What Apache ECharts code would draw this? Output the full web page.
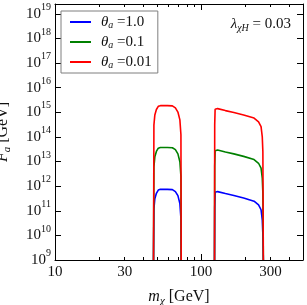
<!DOCTYPE html>
<html><head><meta charset="utf-8">
<script src="https://cdn.jsdelivr.net/npm/echarts@6/dist/echarts.min.js"></script>
<style>html,body{margin:0;padding:0;background:#fff}#c{width:307px;height:305px}</style>
</head><body><div id="c"></div>
<script>
// ---- data ----
const massLow  = [47.3, 47.6, 48.3, 49.5, 51.0, 52.7, 58.9, 63.7, 66.8, 69.5, 71.7, 72.9, 73.2];
const massHigh = [123.8, 124.2, 125.0, 127.0, 130.0, 147.0, 168.0, 196.0, 231.0, 248.0, 258.0, 263.0, 265.5, 267.5];

const fBlueLow  = [1e9, 1.2e11, 3.1e11, 5.1e11, 6.9e11, 7.4e11, 7.4e11, 7.2e11, 6.0e11, 4.1e11, 1.95e11, 4.9e10, 1e9];
const fGreenLow = [1e9, 6.0e12, 1.55e13, 2.57e13, 3.47e13, 3.72e13, 3.72e13, 3.63e13, 3.02e13, 2.04e13, 9.8e12, 2.45e12, 1e9];
const fRedLow   = [1e9, 3.0e14, 7.8e14, 1.3e15, 1.74e15, 1.86e15, 1.86e15, 1.82e15, 1.51e15, 1.02e15, 4.9e14, 1.23e14, 1e9];

const fBlueHigh  = [1e9, 1.3e11, 5.6e11, 6.0e11, 6.0e11, 5.0e11, 4.2e11, 3.3e11, 2.45e11, 1.74e11, 1.1e11, 4.3e10, 1.07e10, 1e9];
const fGreenHigh = [1e9, 6.5e12, 2.75e13, 2.95e13, 2.95e13, 2.45e13, 2.04e13, 1.62e13, 1.2e13, 8.5e12, 5.4e12, 2.1e12, 5.2e11, 1e9];
const fRedHigh   = [1e9, 3.1e14, 1.32e15, 1.41e15, 1.41e15, 1.17e15, 9.8e14, 7.8e14, 5.8e14, 4.1e14, 2.6e14, 1.0e14, 2.5e13, 1e9];

const thetaNames = ['1.0', '0.1', '0.01'];
const lineColors = ['#0000ff', '#008000', '#ff0000'];
const lambdaValue = '0.03';

const xMajorTicks = [10, 100];
const xMinorTicks = [20, 30, 40, 50, 60, 70, 80, 90, 200, 300, 400];
const xTickLabels = [10, 30, 100, 300];
const yTicks = [1e9, 1e10, 1e11, 1e12, 1e13, 1e14, 1e15, 1e16, 1e17, 1e18, 1e19];
const yExponents = {1e9:9,1e10:10,1e11:11,1e12:12,1e13:13,1e14:14,1e15:15,1e16:16,1e17:17,1e18:18,1e19:19};

// ---- chart ----
const FF = '"Liberation Serif", "DejaVu Serif", serif';
const TXT = '#111';
const X_MIN = 10, X_MAX = 500, Y_MIN = 1e9, Y_MAX = 2.5e19;

function pairs(ms, fs) { return ms.map((m, i) => [m, fs[i]]); }

const curves = [
  [fBlueLow, fBlueHigh], [fGreenLow, fGreenHigh], [fRedLow, fRedHigh]
];
const series = [];
curves.forEach((c, k) => {
  [[massLow, c[0]], [massHigh, c[1]]].forEach(([ms, fs]) => {
    series.push({
      type: 'line', name: thetaNames[k], data: pairs(ms, fs),
      xAxisIndex: 0, yAxisIndex: 0, showSymbol: false, symbol: 'none',
      clip: true, z: 2 + k,
      lineStyle: { color: lineColors[k], width: 1.6 },
      itemStyle: { color: lineColors[k] }
    });
  });
});

function xAxisDef(position, ticks, len, withLine, withLabels) {
  return {
    type: 'log', logBase: 10, min: X_MIN, max: X_MAX, position: position, gridIndex: 0,
    axisLine: { show: withLine, onZero: false, lineStyle: { color: '#000', width: 1 } },
    axisTick: { show: true, inside: true, length: len, customValues: ticks, lineStyle: { color: '#000', width: 1 } },
    axisLabel: withLabels ? {
      show: true, customValues: xTickLabels, fontFamily: FF, fontSize: 15, color: TXT, margin: 5,
      formatter: v => String(Math.round(v))
    } : { show: false },
    splitLine: { show: false }, minorTick: { show: false }
  };
}
function yAxisDef(position, withLabels) {
  return {
    type: 'log', logBase: 10, min: Y_MIN, max: Y_MAX, position: position, gridIndex: 0,
    axisLine: { show: true, onZero: false, lineStyle: { color: '#000', width: 1 } },
    axisTick: { show: true, inside: true, length: 6, customValues: yTicks, lineStyle: { color: '#000', width: 1 } },
    axisLabel: withLabels ? {
      show: true, customValues: yTicks, margin: 4, color: TXT,
      formatter: v => '{b|10}{s|' + yExponents[v] + '}',
      rich: {
        b: { fontFamily: FF, fontSize: 15, lineHeight: 15, color: TXT },
        s: { fontFamily: FF, fontSize: 10, lineHeight: 10, color: TXT, padding: [0, 0, 13, 0] }
      }
    } : { show: false },
    splitLine: { show: false }
  };
}

const xs = [xAxisDef('bottom', xMajorTicks, 6, true, true), xAxisDef('bottom', xMinorTicks, 3, false, false),
            xAxisDef('top', xMajorTicks, 6, true, false), xAxisDef('top', xMinorTicks, 3, false, false)];
xs[0].name = '{m|m}{s|χ}{g| [GeV]}';
xs[0].nameLocation = 'middle';
xs[0].nameGap = 29;
xs[0].nameTextStyle = {
  color: TXT,
  rich: {
    m: { fontFamily: FF, fontStyle: 'italic', fontSize: 16, lineHeight: 16, color: TXT },
    s: { fontFamily: FF, fontStyle: 'italic', fontSize: 11, lineHeight: 11, color: TXT, padding: [9, 0, 0, 0] },
    g: { fontFamily: FF, fontSize: 16, lineHeight: 16, color: TXT }
  }
};
const ys = [yAxisDef('left', true), yAxisDef('right', false)];
ys[0].name = '{f|F}{s|a}{g| [GeV]}';
ys[0].nameLocation = 'middle';
ys[0].nameGap = 44;
ys[0].nameRotate = 90;
ys[0].nameTextStyle = {
  color: TXT,
  rich: {
    f: { fontFamily: FF, fontStyle: 'italic', fontSize: 16, lineHeight: 16, color: TXT },
    s: { fontFamily: FF, fontStyle: 'italic', fontSize: 11, lineHeight: 11, color: TXT, padding: [8, 0, 0, 0] },
    g: { fontFamily: FF, fontSize: 16, lineHeight: 16, color: TXT }
  }
};

const chart = echarts.init(document.getElementById('c'), null, { renderer: 'canvas' });
chart.setOption({
  animation: false,
  backgroundColor: '#fff',
  grid: { left: 55, right: 4, top: 4, bottom: 45, containLabel: false, outerBoundsMode: 'none', show: false },
  xAxis: xs,
  yAxis: ys,
  title: {
    text: '{l|λ}{s|χH}{n| = ' + lambdaValue + '}',
    right: 16, top: 17, padding: 0,
    textStyle: {
      fontWeight: 'normal',
      rich: {
        l: { fontFamily: FF, fontStyle: 'italic', fontWeight: 'normal', fontSize: 15, lineHeight: 15, color: TXT },
        s: { fontFamily: FF, fontStyle: 'italic', fontWeight: 'normal', fontSize: 10, lineHeight: 10, color: TXT, padding: [8, 0, 0, 0] },
        n: { fontFamily: FF, fontWeight: 'normal', fontSize: 15, lineHeight: 15, color: TXT }
      }
    }
  },
  legend: {
    data: thetaNames, orient: 'vertical', left: 61, top: 11,
    padding: [3, 6, 3, 9], itemGap: 4, itemWidth: 21, itemHeight: 2, icon: 'rect',
    borderColor: '#7f7f7f', borderWidth: 1, borderRadius: 0, backgroundColor: '#fff',
    selectedMode: false,
    formatter: name => '{t|θ}{a|a}{v| =' + name + '}',
    textStyle: {
      rich: {
        t: { fontFamily: FF, fontStyle: 'italic', fontSize: 15, lineHeight: 15, color: TXT, padding: [0, 0, 0, 5] },
        a: { fontFamily: FF, fontStyle: 'italic', fontSize: 10, lineHeight: 10, color: TXT, padding: [6, 0, 0, 0] },
        v: { fontFamily: FF, fontSize: 15, lineHeight: 15, color: TXT }
      }
    }
  },
  series: series
});
</script></body></html>
